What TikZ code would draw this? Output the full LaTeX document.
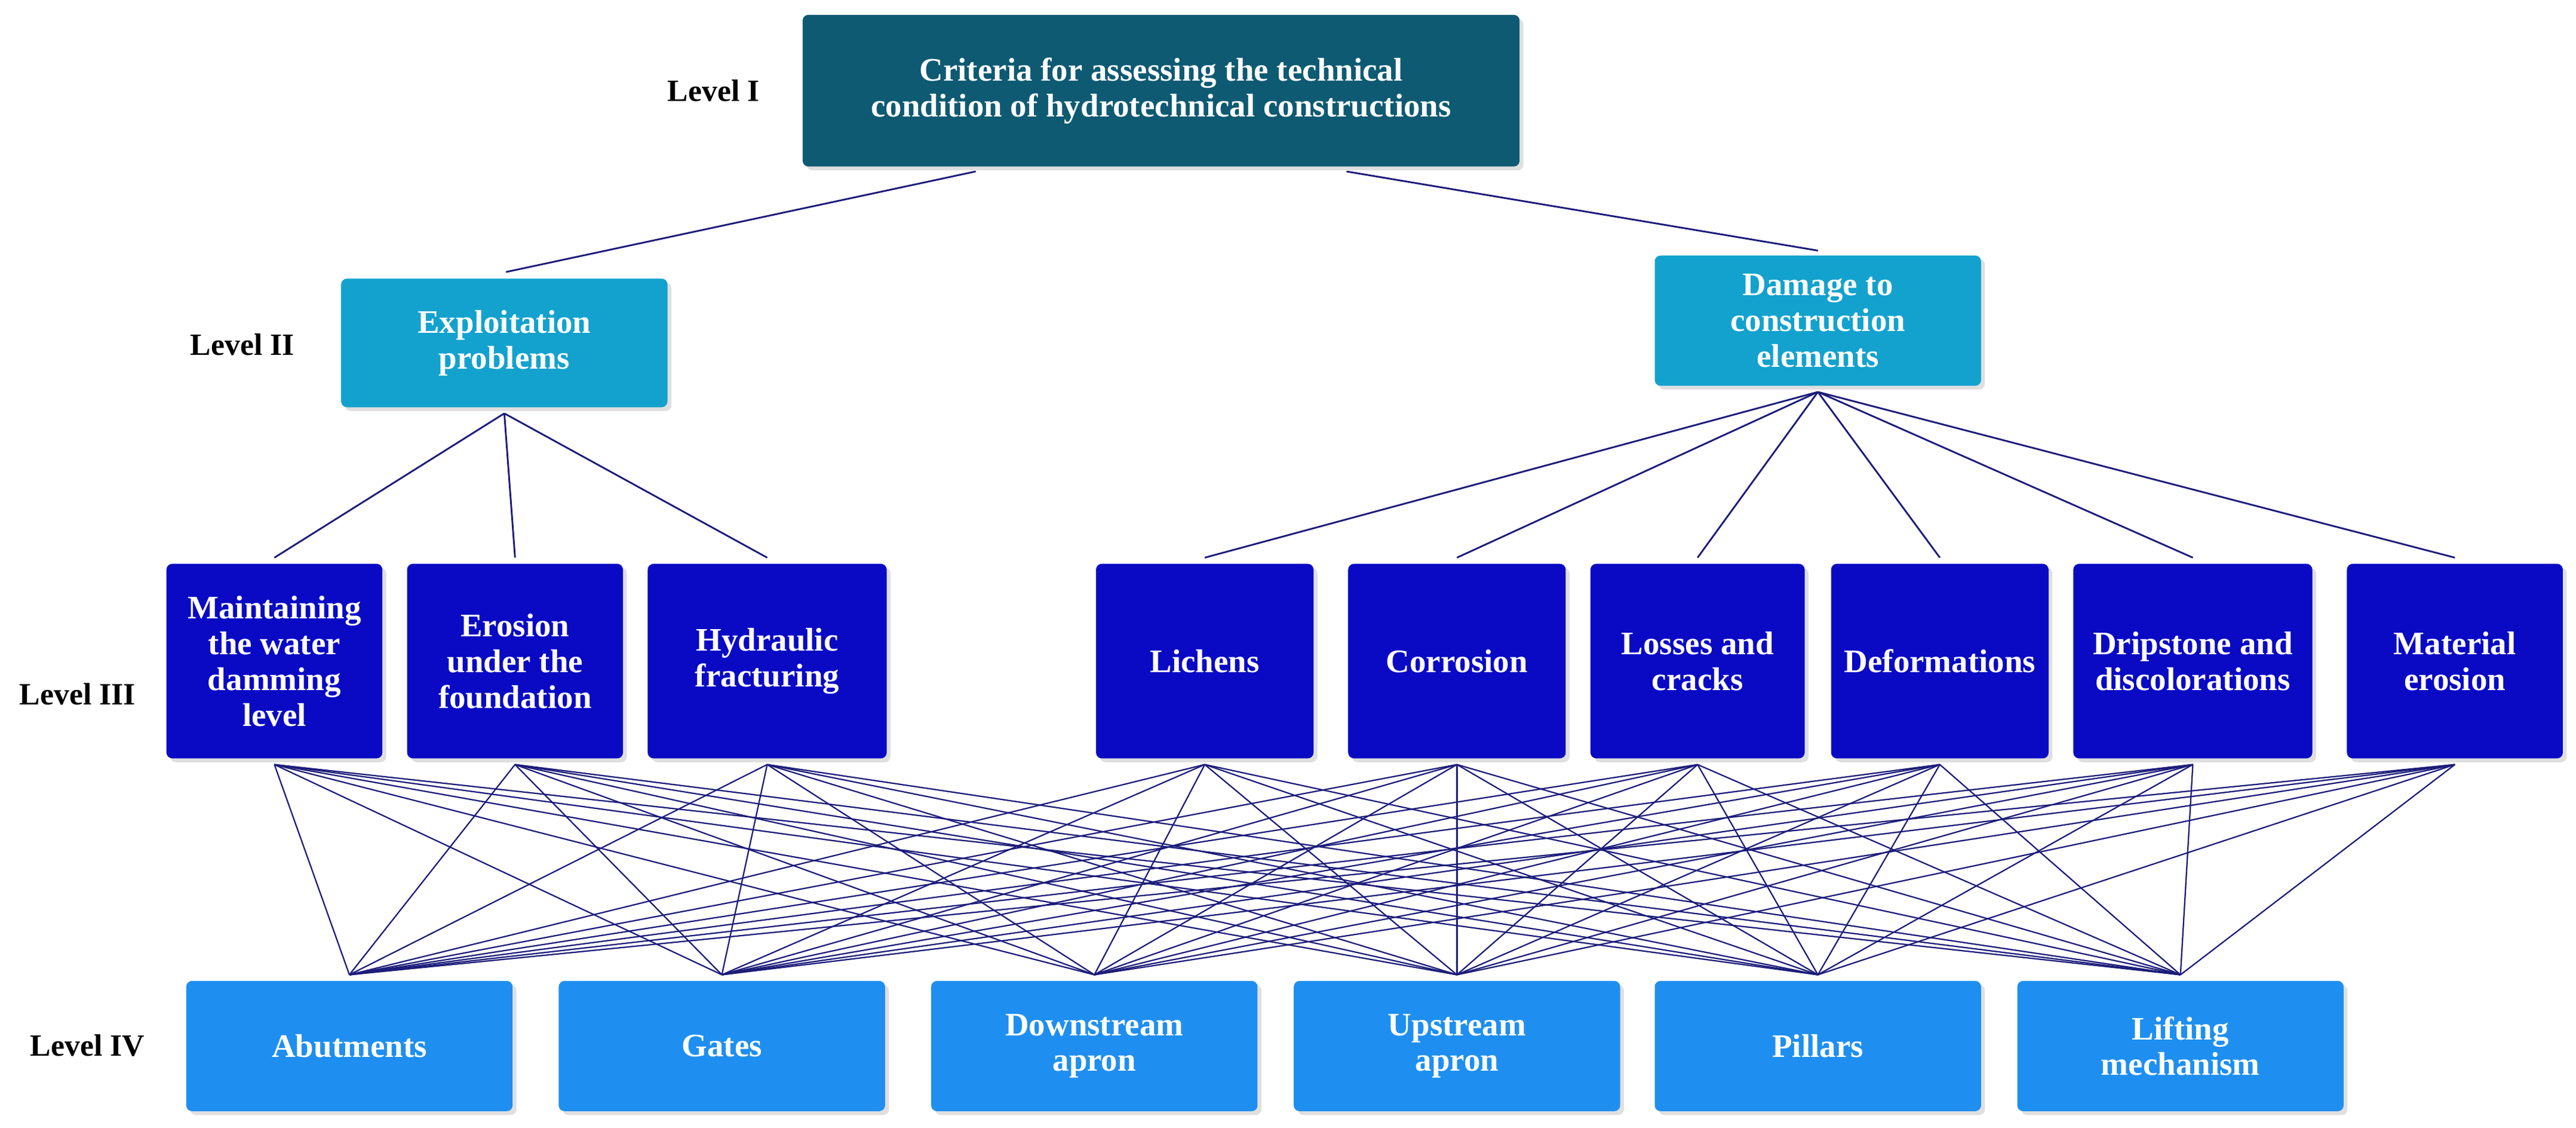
\documentclass[tikz,border=0pt]{standalone}
\usepackage{fontspec}
\setmainfont{Liberation Serif}
\usetikzlibrary{shadows}
\begin{document}
\begin{tikzpicture}[x=0.03cm,y=-0.03cm,
  box/.style={draw=none,rounded corners=3pt,text=white,font=\fontsize{17}{18.5}\selectfont\bfseries,align=center,inner sep=1pt,drop shadow={shadow xshift=2pt,shadow yshift=-2pt,opacity=0.25}},
  lvl/.style={font=\fontsize{16}{18}\selectfont\bfseries,text=black},
  ln/.style={draw=lc,line width=0.9pt}]
\definecolor{c1}{HTML}{0E5A72}
\definecolor{c2}{HTML}{13A2CE}
\definecolor{c3}{HTML}{0A0AC4}
\definecolor{c4}{HTML}{1E8FF0}
\definecolor{lc}{HTML}{1C1C7A}
\useasboundingbox (0,0) rectangle (1563,684);
\newcommand{\bx}[7]{\node[box,fill=#6,minimum width={(#3-#1)*0.03cm},minimum height={(#4-#2)*0.03cm}] (#5) at ({(#1+#3)/2},{(#2+#4)/2}) {#7};}
\bx{487}{9}{922}{101}{L1}{c1}{Criteria for assessing the technical\\condition of hydrotechnical constructions}
\bx{207}{169}{405}{247}{A}{c2}{Exploitation\\problems}
\bx{1004}{155}{1202}{234}{B}{c2}{Damage to\\construction\\elements}
\bx{101}{342}{232}{460}{m1}{c3}{Maintaining\\the water\\damming\\level}
\bx{247}{342}{378}{460}{m2}{c3}{Erosion\\under the\\foundation}
\bx{393}{342}{538}{460}{m3}{c3}{Hydraulic\\fracturing}
\bx{665}{342}{797}{460}{m4}{c3}{Lichens}
\bx{818}{342}{950}{460}{m5}{c3}{Corrosion}
\bx{965}{342}{1095}{460}{m6}{c3}{Losses and\\cracks}
\bx{1111}{342}{1243}{460}{m7}{c3}{Deformations}
\bx{1258}{342}{1403}{460}{m8}{c3}{Dripstone and\\discolorations}
\bx{1424}{342}{1555}{460}{m9}{c3}{Material\\erosion}
\bx{113}{595}{311}{674}{b1}{c4}{Abutments}
\bx{339}{595}{537}{674}{b2}{c4}{Gates}
\bx{565}{595}{763}{674}{b3}{c4}{Downstream\\apron}
\bx{785}{595}{983}{674}{b4}{c4}{Upstream\\apron}
\bx{1004}{595}{1202}{674}{b5}{c4}{Pillars}
\bx{1224}{595}{1422}{674}{b6}{c4}{Lifting\\mechanism}
\node[lvl] (t1) at (433,55) {Level I};
\node[lvl] (t2) at (147,209) {Level II};
\node[lvl] (t3) at (47,421) {Level III};
\node[lvl] (t4) at (53,634) {Level IV};
\coordinate (p1) at (592,104);
\coordinate (p2) at (817,104);
\coordinate (q1) at (307,165);
\coordinate (q2) at (1103,152);
\draw[ln] (p1) -- (q1);
\draw[ln] (p2) -- (q2);
\foreach \i in {1,2,3} \draw[ln] ([yshift=-3pt]A.south) -- ([yshift=3pt]m\i.north);
\foreach \i in {4,...,9} \draw[ln] ([yshift=-3pt]B.south) -- ([yshift=3pt]m\i.north);
\foreach \i in {1,...,9} \foreach \j in {1,...,6}
  \draw[ln,line width=0.7pt] ([yshift=-3pt]m\i.south) -- ([yshift=3pt]b\j.north);
\end{tikzpicture}
\end{document}
